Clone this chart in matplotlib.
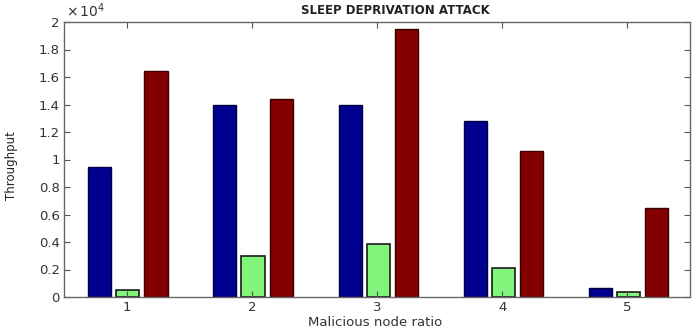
import numpy as np
import matplotlib
matplotlib.use("Agg")
import matplotlib.pyplot as plt
from matplotlib.ticker import FuncFormatter

# values (throughput, units of 1e4)
ratios = [1, 2, 3, 4, 5]
series_a = [0.945, 1.394, 1.400, 1.280, 0.065]
series_b = [0.050, 0.300, 0.388, 0.209, 0.040]
series_c = [1.646, 1.440, 1.947, 1.064, 0.647]
yticks = [0, 0.2, 0.4, 0.6, 0.8, 1, 1.2, 1.4, 1.6, 1.8, 2]

fig = plt.figure(figsize=(7, 3.3), dpi=100)
ax = fig.add_axes([64 / 700, 33 / 330, 626 / 700, 275 / 330])

x = np.array(ratios, dtype=float)
w = 0.185
ax.bar(x - 0.215, np.array(series_a) * 1e4, w, color="#00008e",
       edgecolor="#000040", linewidth=1.0)
ax.bar(x + 0.01, np.array(series_b) * 1e4, w, color="#80f57a",
       edgecolor="#1a1a1a", linewidth=1.2)
ax.bar(x + 0.235, np.array(series_c) * 1e4, w, color="#820000",
       edgecolor="#3a0000", linewidth=1.0)

ax.set_xlim(0.5, 5.5)
ax.set_ylim(0, 2e4)
ax.set_xticks(ratios)
ax.set_yticks([t * 1e4 for t in yticks])
ax.yaxis.set_major_formatter(FuncFormatter(lambda v, p: "%g" % (v / 1e4)))
ax.tick_params(direction="in", top=True, right=True, length=4,
               labelsize=9.5, colors="#555555", labelcolor="#333333", pad=3)
for s in ax.spines.values():
    s.set_color("#666666")
    s.set_linewidth(1.0)

fig.text(66 / 700, 1 - 11 / 330, r"$\times\,\mathregular{10^4}$", fontsize=10,
         color="#333333", va="center", ha="left")
fig.text(395 / 700, 1 - 11 / 330, "SLEEP DEPRIVATION ATTACK", fontsize=8.5,
         fontweight="bold", color="#222222", ha="center", va="center")
fig.text(12 / 700, 1 - 166 / 330, "Throughput", rotation=90, fontsize=8.5,
         family=["Liberation Sans Narrow", "DejaVu Sans"], color="#222222",
         ha="center", va="center")
fig.text(375 / 700, 1 - 323 / 330, "Malicious node ratio", fontsize=9.5,
         color="#333333", ha="center", va="center")

fig.savefig("out.png", dpi=100)
